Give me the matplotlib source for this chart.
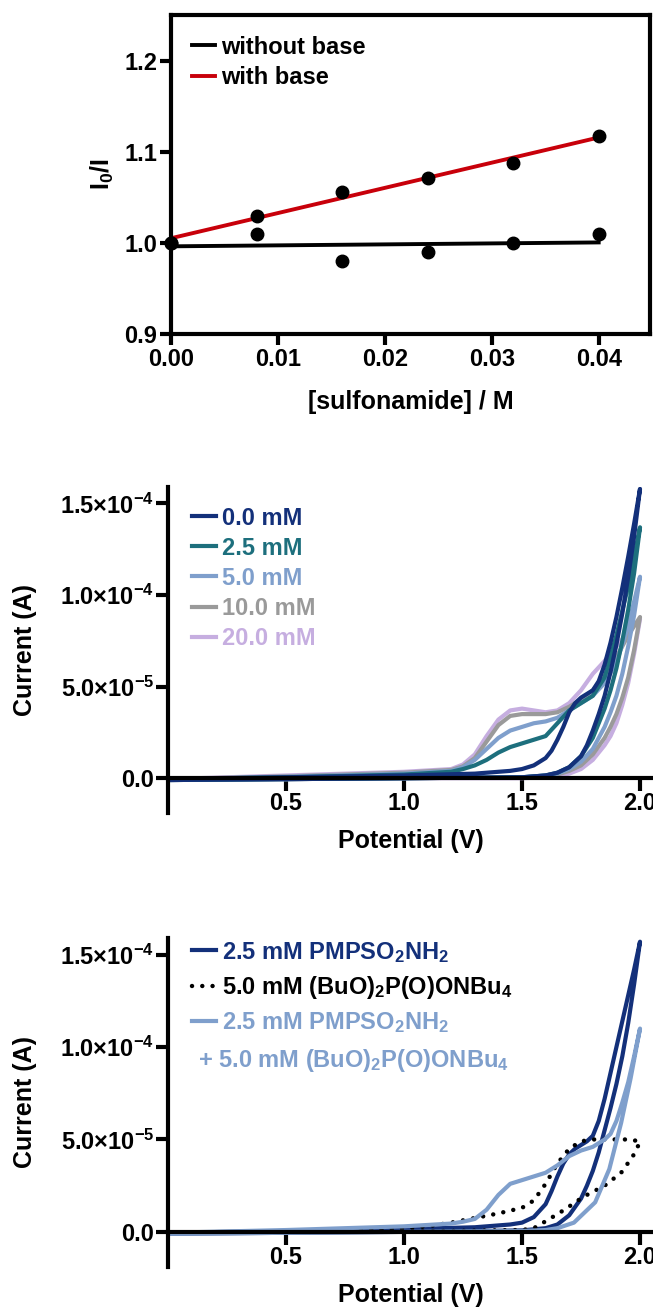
import numpy as np
import matplotlib
matplotlib.use('Agg')
import matplotlib.pyplot as plt

plt.rcParams['font.family'] = ['Liberation Sans', 'DejaVu Sans']
plt.rcParams['font.weight'] = 'bold'
plt.rcParams['mathtext.fontset'] = 'custom'
plt.rcParams['mathtext.rm'] = 'Liberation Sans:bold'
plt.rcParams['mathtext.it'] = 'Liberation Sans:bold'
plt.rcParams['mathtext.bf'] = 'Liberation Sans:bold'
plt.rcParams['axes.linewidth'] = 3

FS_TICK = 17
FS_LAB = 18
FS_LEG = 17

# --- panel 1: Stern-Volmer data
conc = [0.0, 0.008, 0.016, 0.024, 0.032, 0.040]
ratio_no_base = [1.000, 1.010, 0.980, 0.990, 1.000, 1.010]
ratio_base = [1.000, 1.030, 1.056, 1.071, 1.088, 1.117]

# --- panel 2: CVs vs base concentration (V, current in uA), forward then reverse
cv_labels = ['0.0 mM', '2.5 mM', '5.0 mM', '10.0 mM', '20.0 mM']
cv_colors = ['#13307a', '#1d6f7d', '#7f9fcc', '#9a9a9a', '#c6aee0']

v_fwd_0 = [0, 0.5, 1.0, 1.3, 1.45, 1.5, 1.55, 1.6, 1.625, 1.65, 1.675, 1.7, 1.725, 1.75, 1.775, 1.8,
           1.825, 1.85, 1.875, 1.9, 1.925, 1.95, 1.975, 2.0]
i_fwd_0 = [-0.5, 0.5, 1.5, 2.5, 4, 5, 7, 11, 15, 21, 28, 36, 41, 44, 46, 48,
           53, 62, 74, 88, 104, 121, 139, 158]
v_rev_0 = [2.0, 1.975, 1.95, 1.925, 1.9, 1.875, 1.85, 1.825, 1.8, 1.775, 1.75, 1.7, 1.65, 1.6, 1.5, 1.0, 0.5, 0]
i_rev_0 = [158, 132, 110, 90, 73, 58, 45, 35, 26, 18, 12, 6, 3, 1.5, 0.5, 0, -0.5, -1]

v_fwd_m = [0, 0.5, 1.0, 1.2, 1.25, 1.3, 1.35, 1.4, 1.45, 1.5, 1.55, 1.6, 1.65, 1.7, 1.75, 1.8,
           1.85, 1.9, 1.95, 2.0]
i_fwd_25 = [-0.5, 0.5, 2, 3.5, 5, 7, 10, 14, 17, 19, 21, 23, 30, 37, 41, 45, 55, 78, 105, 137]
i_fwd_50 = [-0.5, 0.8, 2.5, 4, 6, 10, 16, 22, 26, 28, 30, 31, 33, 37, 41, 45, 52, 63, 83, 110]
i_fwd_100 = [-0.5, 1, 3, 4.5, 6.5, 11, 20, 29, 34, 35, 35, 35, 36, 39, 43, 48, 56, 66, 78, 88]
i_fwd_200 = [-0.5, 1.5, 3.5, 5, 7.5, 13, 23, 32, 37, 38, 37, 36, 37, 41, 48, 57, 64, 72, 80, 87]

v_rev_m = [2.0, 1.975, 1.95, 1.925, 1.9, 1.875, 1.85, 1.8, 1.75, 1.7, 1.65, 1.6, 1.5, 1.0, 0.5, 0]
i_rev_25 = [137, 112, 92, 75, 60, 48, 38, 22, 12, 6, 3, 1.5, 0.5, 0, -0.5, -1]
i_rev_50 = [110, 89, 72, 57, 45, 36, 28, 16, 9, 5, 2.5, 1.5, 0.5, 0, -0.5, -1]
i_rev_100 = [88, 70, 55, 44, 35, 28, 22, 13, 7, 4, 2, 1, 0.5, 0, -0.5, -1]
i_rev_200 = [87, 68, 52, 40, 30, 23, 18, 10, 5, 2.5, 1, 0.5, 0, 0, -0.5, -1]

# --- panel 3: sulfonamide / phosphate / both
sul_v_fwd = [0, 0.5, 1.0, 1.3, 1.45, 1.5, 1.55, 1.6, 1.625, 1.65, 1.675, 1.7, 1.725, 1.75, 1.775, 1.8,
             1.825, 1.85, 1.875, 1.9, 1.925, 1.95, 1.975, 2.0]
sul_i_fwd = [-0.5, 0.5, 1.5, 2.5, 4, 5, 8, 15, 22, 30, 37, 42, 45, 47, 49, 52,
             60, 72, 86, 100, 114, 128, 142, 157]
sul_v_rev = [2.0, 1.975, 1.95, 1.925, 1.9, 1.875, 1.85, 1.825, 1.8, 1.775, 1.75, 1.7, 1.65, 1.6, 1.5, 1.0, 0.5, 0]
sul_i_rev = [157, 134, 113, 95, 80, 67, 55, 43, 33, 25, 18, 9, 4, 2, 0.8, 0, -0.5, -1]

phos_v = [0.6, 0.8, 1.0, 1.1, 1.2, 1.3, 1.4, 1.45, 1.5, 1.55, 1.6, 1.65, 1.7, 1.75, 1.8, 1.85, 1.9, 1.95, 2.0,
          1.99, 1.97, 1.92, 1.85, 1.76, 1.68, 1.61, 1.55, 1.5, 1.2, 0.6]
phos_i = [0.5, 1, 2, 3, 5, 7.5, 10, 11.5, 13, 17, 26, 37, 45, 49, 50, 50, 50, 50, 49,
          46, 41, 32, 25, 19, 12, 6.5, 2, 1, 0.5, 0]

mix_v_fwd = [0, 0.5, 1.0, 1.2, 1.25, 1.3, 1.35, 1.4, 1.45, 1.5, 1.55, 1.6, 1.65, 1.7, 1.75, 1.8,
             1.85, 1.875, 1.9, 1.925, 1.95, 1.975, 2.0]
mix_i_fwd = [-0.5, 1, 3, 4.5, 5.5, 7, 12, 20, 26, 28, 30, 32, 36, 41, 44, 46, 50, 53, 60, 70, 81, 95, 110]
mix_v_rev = [2.0, 1.96, 1.92, 1.87, 1.81, 1.72, 1.65, 1.6, 1.5, 1.0, 0.5, 0]
mix_i_rev = [110, 83, 59, 34, 16, 5, 2, 1, 0.5, 0, -0.5, -1]

fig = plt.figure(figsize=(6.53, 13.11), dpi=100)

# ---------------- panel 1
ax1 = fig.add_axes([171 / 653, 1 - 334 / 1311, 479 / 653, 319 / 1311])
for x, y, c, lab in [(conc, ratio_no_base, 'black', 'without base'), (conc, ratio_base, '#c8000a', 'with base')]:
    k, b = np.polyfit(x, y, 1)
    xx = np.array([x[0], x[-1]])
    ax1.plot(xx, k * xx + b, color=c, lw=2.8, label=lab, zorder=2)
    ax1.plot(x, y, 'o', color='black', ms=9, zorder=3, clip_on=False)
ax1.set_xlim(0, 0.0448)
ax1.set_ylim(0.9, 1.25)
ax1.set_xticks([0, 0.01, 0.02, 0.03, 0.04])
ax1.set_xticklabels(['0.00', '0.01', '0.02', '0.03', '0.04'])
ax1.set_yticks([0.9, 1.0, 1.1, 1.2])
ax1.tick_params(labelsize=FS_TICK, width=3, length=8, direction='out', pad=2)
ax1.set_xlabel('[sulfonamide] / M', fontsize=FS_LAB, fontweight='bold', labelpad=14)
ax1.set_ylabel('I$_0$/I', fontsize=FS_LAB, fontweight='bold')
ax1.yaxis.set_label_coords(-0.115, 0.5)
ax1.legend(loc='upper left', bbox_to_anchor=(0.043, 0.935), frameon=False, fontsize=FS_LEG,
           handlelength=1.0, handletextpad=0.25, borderpad=0, borderaxespad=0, labelspacing=0.3)


def cv_axes(top, bottom):
    ax = fig.add_axes([168 / 653, 1 - bottom / 1311, 485 / 653, (bottom - top) / 1311])
    ax.set_xlim(0, 2.055)
    ax.set_ylim(-1.9e-5, 1.59e-4)
    ax.spines['top'].set_visible(False)
    ax.spines['right'].set_visible(False)
    ax.spines['bottom'].set_position(('data', 0))
    ax.set_xticks([0.5, 1.0, 1.5, 2.0])
    ax.set_xticklabels(['0.5', '1.0', '1.5', '2.0'])
    ax.set_yticks([0, 5e-5, 1e-4, 1.5e-4])
    ax.set_yticklabels(['0.0', '5.0×10$^{-5}$', '1.0×10$^{-4}$', '1.5×10$^{-4}$'])
    ax.tick_params(labelsize=FS_TICK, width=3, length=9, direction='out', pad=1)
    ax.set_xlabel('Potential (V)', fontsize=FS_LAB, fontweight='bold', labelpad=10)
    ax.set_ylabel('Current (A)', fontsize=FS_LAB, fontweight='bold')
    ax.yaxis.set_label_coords(-0.27, 0.5)
    return ax


# ---------------- panel 2
ax2 = cv_axes(487, 813)
curves = [(v_fwd_0, i_fwd_0, v_rev_0, i_rev_0),
          (v_fwd_m, i_fwd_25, v_rev_m, i_rev_25),
          (v_fwd_m, i_fwd_50, v_rev_m, i_rev_50),
          (v_fwd_m, i_fwd_100, v_rev_m, i_rev_100),
          (v_fwd_m, i_fwd_200, v_rev_m, i_rev_200)]
for n in range(len(curves) - 1, -1, -1):
    vf, i_f, vr, i_r = curves[n]
    v = list(vf) + list(vr)
    cur = np.array(list(i_f) + list(i_r)) * 1e-6
    ax2.plot(v, cur, color=cv_colors[n], lw=3, label=cv_labels[n], solid_joinstyle='round')
h, l = ax2.get_legend_handles_labels()
ax2.legend(h[::-1], l[::-1], loc='upper left', bbox_to_anchor=(0.05, 0.94), frameon=False, fontsize=FS_LEG,
           handlelength=1.0, handletextpad=0.25, borderpad=0, borderaxespad=0, labelspacing=0.3,
           labelcolor='linecolor')

# ---------------- panel 3
ax3 = cv_axes(938, 1267)
ax3.plot(list(sul_v_fwd) + list(sul_v_rev), np.array(sul_i_fwd + sul_i_rev) * 1e-6,
         color='#13307a', lw=3, label='2.5 mM PMPSO$_2$NH$_2$', solid_joinstyle='round')
ax3.plot(phos_v, np.array(phos_i) * 1e-6, color='black', lw=3.2, ls=(0, (0.01, 2.3)),
         dash_capstyle='round', label='5.0 mM (BuO)$_2$P(O)ONBu$_4$')
ax3.plot(list(mix_v_fwd) + list(mix_v_rev), np.array(mix_i_fwd + mix_i_rev) * 1e-6,
         color='#7f9fcc', lw=3, label='2.5 mM PMPSO$_2$NH$_2$', solid_joinstyle='round')
ax3.legend(loc='upper left', bbox_to_anchor=(0.05, 0.995), frameon=False, fontsize=FS_LEG,
           handlelength=1.0, handletextpad=0.25, borderpad=0, borderaxespad=0, labelspacing=0.4,
           labelcolor='linecolor')
fig.text(198 / 653, 1 - 1060 / 1311, '+ 5.0 mM (BuO)$_2$P(O)ONBu$_4$', fontsize=FS_LEG,
         color='#7f9fcc', fontweight='bold', va='center', ha='left')

fig.savefig('out.png', dpi=100)
